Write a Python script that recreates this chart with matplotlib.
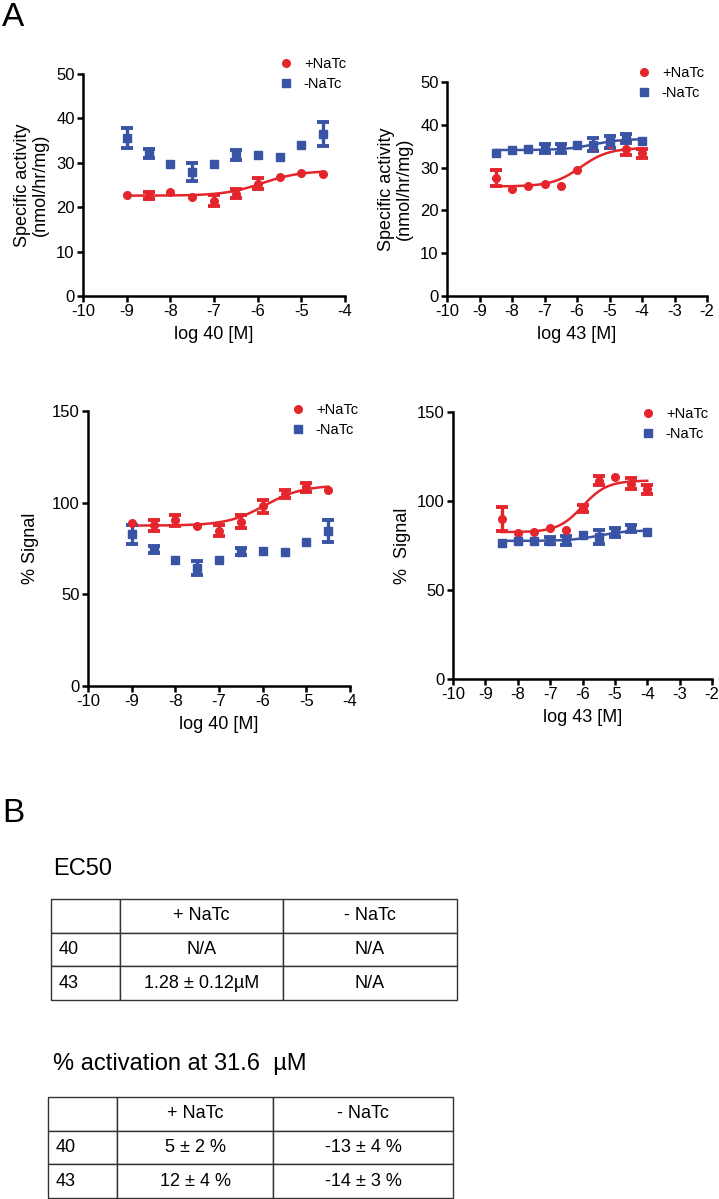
import numpy as np
import matplotlib.pyplot as plt

plt.rcParams['font.family'] = ['Liberation Sans', 'DejaVu Sans']
plt.rcParams['axes.unicode_minus'] = False

RED = '#e4262c'
BLUE = '#3954a5'

# log concentrations
x40 = [-9, -8.5, -8, -7.5, -7, -6.5, -6, -5.5, -5, -4.5]
x43 = [-8.5, -8, -7.5, -7, -6.5, -6, -5.5, -5, -4.5, -4]

# specific activity (nmol/hr/mg)
sa40_plus = [22.8, 22.6, 23.4, 22.3, 21.5, 23.0, 25.3, 26.9, 27.8, 27.4]
sa40_plus_err = [0, 0.8, 0, 0, 1.2, 1.0, 1.2, 0, 0, 0]
sa40_minus = [35.6, 32.0, 29.8, 28.0, 29.8, 31.7, 31.8, 31.4, 34.0, 36.5]
sa40_minus_err = [2.3, 1.0, 0, 2.0, 0, 1.1, 0, 0, 0, 2.8]

sa43_plus = [27.6, 24.9, 25.7, 26.1, 25.8, 29.5, 35.0, 35.6, 34.4, 33.3]
sa43_plus_err = [1.8, 0, 0, 0, 0, 0, 0, 0, 1.5, 1.0]
sa43_minus = [33.5, 34.2, 34.3, 34.5, 34.5, 35.3, 35.3, 36.0, 36.8, 36.3]
sa43_minus_err = [0, 0, 0, 1.0, 1.0, 0, 1.5, 1.5, 1.0, 0]

# % signal
sig40_plus = [88.7, 87.7, 90.5, 87.2, 84.7, 89.6, 98.1, 104.7, 108.3, 106.9]
sig40_plus_err = [0, 3, 3, 0, 3, 3.5, 3.5, 2, 2.5, 0]
sig40_minus = [82.7, 74.5, 69.0, 64.4, 69.0, 73.2, 73.9, 73.0, 78.6, 84.7]
sig40_minus_err = [5, 2, 0, 4, 0, 2, 0, 0, 0, 6]

sig43_plus = [89.7, 82.2, 82.8, 84.7, 83.7, 95.9, 111.4, 113.3, 109.7, 106.7]
sig43_plus_err = [6.7, 0, 0, 0, 0, 2, 2.5, 0, 3, 2.5]
sig43_minus = [76.6, 77.7, 77.7, 77.7, 77.9, 80.9, 79.9, 82.2, 84.7, 82.8]
sig43_minus_err = [0, 0, 0, 2, 2.5, 0, 4, 2.5, 2, 0]

# sigmoidal fit parameters (bottom, top, logEC50, hill); None = no fit drawn
fit_sa40_plus = (22.6, 28.2, -5.9, 1.0)
fit_sa43_plus = (25.6, 34.6, -5.89, 1.0)
fit_sa43_minus = (34.1, 36.7, -5.5, 1.0)
fit_sig40_plus = (87.5, 109.5, -5.95, 1.0)
fit_sig43_plus = (82.5, 111.5, -6.0, 1.15)
fit_sig43_minus = (77.6, 83.5, -5.5, 1.0)

# tables
tab_cols = ['', '+ NaTc', '- NaTc']
ec50_rows = [['40', 'N/A', 'N/A'],
             ['43', '1.28 ± 0.12µM', 'N/A']]
act_rows = [['40', '5 ± 2 %', '-13 ± 4 %'],
            ['43', '12 ± 4 %', '-14 ± 3 %']]

W, H = 719, 1199
fig = plt.figure(figsize=(W / 100, H / 100), dpi=100)


def box(x0, y0, x1, y1):
    return [x0 / W, 1 - y1 / H, (x1 - x0) / W, (y1 - y0) / H]


def sigmoid(x, p):
    b, t, ec, h = p
    return b + (t - b) / (1 + 10 ** ((ec - x) * h))


def series(ax, x, y, err, color, marker, fit):
    x = np.array(x)
    y = np.array(y)
    err = np.array(err)
    m = err > 0
    ax.errorbar(x[m], y[m], yerr=err[m], fmt='none', ecolor=color,
                elinewidth=2.4, capsize=4.5, capthick=2.8, zorder=3)
    ax.plot(x, y, ls='none', marker=marker, color=color, ms=5.5,
            zorder=4)
    if fit is not None:
        xs = np.linspace(x.min(), x.max(), 200)
        ax.plot(xs, sigmoid(xs, fit), color=color, lw=1.8, zorder=2)


def style(ax, xlim, ylim, yticks, xlabel, ylabel, ypad):
    ax.set_xlim(*xlim)
    ax.set_ylim(*ylim)
    ax.set_xticks(np.arange(xlim[0], xlim[1] + 1, 1))
    ax.set_yticks(yticks)
    for s in ['top', 'right']:
        ax.spines[s].set_visible(False)
    for s in ['left', 'bottom']:
        ax.spines[s].set_linewidth(1.8)
    ax.tick_params(width=1.8, length=4, labelsize=12, pad=2)
    ax.set_xlabel(xlabel, fontsize=13, labelpad=5)
    ax.set_ylabel(ylabel, fontsize=13, labelpad=ypad, linespacing=1.1)


def legend(ax, x, y):
    h1 = plt.Line2D([], [], ls='none', marker='o', color=RED, ms=5.5)
    h2 = plt.Line2D([], [], ls='none', marker='s', color=BLUE, ms=5.5)
    ax.legend([h1, h2], ['+NaTc', '-NaTc'], loc='upper left',
              bbox_to_anchor=(x / W, 1 - y / H),
              bbox_transform=fig.transFigure, frameon=False,
              fontsize=10.5, handlelength=1.0, handletextpad=0.7,
              labelspacing=0.4, borderaxespad=0, borderpad=0)


ax1 = fig.add_axes(box(83, 74, 345, 296))
series(ax1, x40, sa40_minus, sa40_minus_err, BLUE, 's', None)
series(ax1, x40, sa40_plus, sa40_plus_err, RED, 'o', fit_sa40_plus)
style(ax1, (-10, -4), (0, 50), np.arange(0, 51, 10), 'log 40 [M]',
      'Specific activity\n(nmol/hr/mg)', 5)
legend(ax1, 279, 57)

ax2 = fig.add_axes(box(447, 82, 707, 296))
series(ax2, x43, sa43_plus, sa43_plus_err, RED, 'o', fit_sa43_plus)
series(ax2, x43, sa43_minus, sa43_minus_err, BLUE, 's', fit_sa43_minus)
style(ax2, (-10, -2), (0, 50), np.arange(0, 51, 10), 'log 43 [M]',
      'Specific activity\n(nmol/hr/mg)', 5)
legend(ax2, 637, 66)

ax3 = fig.add_axes(box(88, 411, 350, 686))
series(ax3, x40, sig40_minus, sig40_minus_err, BLUE, 's', None)
series(ax3, x40, sig40_plus, sig40_plus_err, RED, 'o', fit_sig40_plus)
style(ax3, (-10, -4), (0, 150), [0, 50, 100, 150], 'log 40 [M]',
      '% Signal', 9)
legend(ax3, 291, 403)

ax4 = fig.add_axes(box(453, 412, 712, 679))
series(ax4, x43, sig43_plus, sig43_plus_err, RED, 'o', fit_sig43_plus)
series(ax4, x43, sig43_minus, sig43_minus_err, BLUE, 's', fit_sig43_minus)
style(ax4, (-10, -2), (0, 150), [0, 50, 100, 150], 'log 43 [M]',
      '%  Signal', 4)
legend(ax4, 641, 407)

fig.text(2 / W, 1 - 18 / H, 'A', fontsize=24, va='center', ha='left')
fig.text(2 / W, 1 - 813 / H, 'B', fontsize=24, va='center', ha='left')
fig.text(53 / W, 1 - 869 / H, 'EC50', fontsize=17, va='center', ha='left')
fig.text(53 / W, 1 - 1064 / H, '% activation at 31.6  µM', fontsize=17,
         va='center', ha='left')


def table(rect, rows, widths):
    ax = fig.add_axes(rect)
    ax.axis('off')
    tb = ax.table(cellText=[tab_cols] + rows, colWidths=widths,
                  cellLoc='center', bbox=[0, 0, 1, 1])
    tb.auto_set_font_size(False)
    tb.set_fontsize(13)
    for (r, c), cell in tb.get_celld().items():
        cell.set_edgecolor('#333333')
        cell.set_linewidth(1.0)
        if c == 0:
            cell.set_text_props(ha='left')
            cell._loc = 'left'
            cell.PAD = 0.11
    return tb


table(box(51, 899, 457, 1000), ec50_rows, [69, 163, 174])
table(box(48, 1097, 453, 1198), act_rows, [69, 156, 180])

fig.savefig('out.png', dpi=100)
